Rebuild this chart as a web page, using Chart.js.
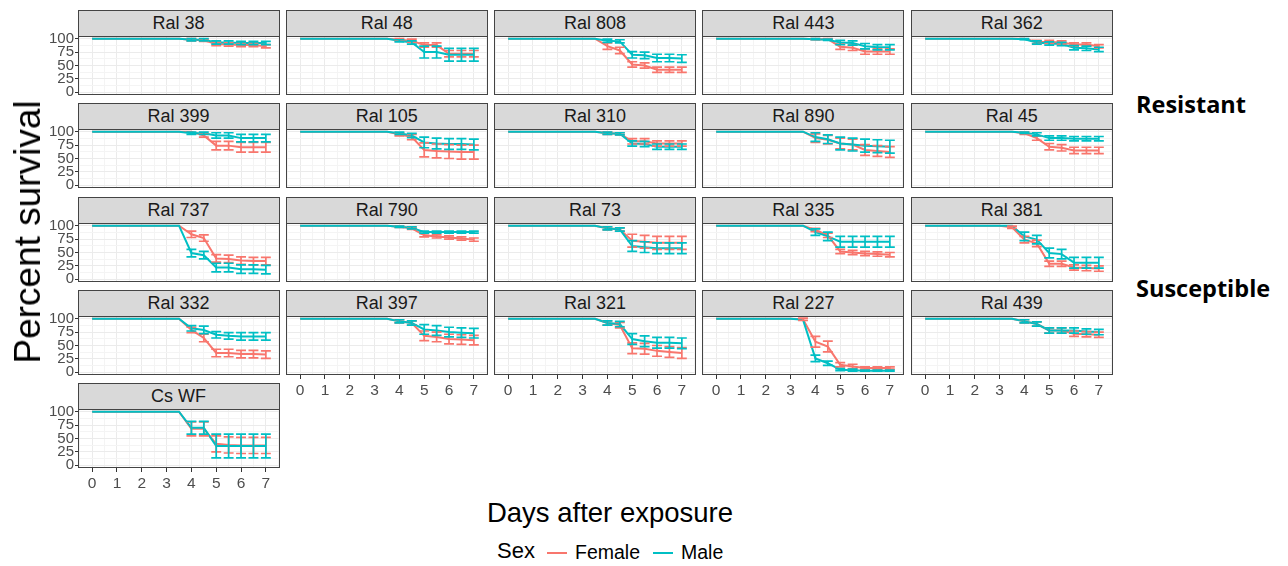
<!DOCTYPE html>
<html>
<head>
<meta charset="utf-8">
<script src="https://cdn.jsdelivr.net/npm/chart.js@4.4.0/dist/chart.umd.min.js"></script>
<style>
  body { margin: 0; background: #fff; font-family: "Liberation Sans", Arial, sans-serif; }
  #wrap { position: relative; width: 1288px; height: 566px; overflow: hidden; }
  .strip { position: absolute; background: #D9D9D9; border: 1px solid #444; box-sizing: border-box;
           text-align: center; font-size: 18px; color: #1A1A1A; line-height: 25px; }
  .cbox { position: absolute; }
  .txt { position: absolute; white-space: nowrap; color: #000; }
  .group { position: absolute; font-family: "Open Sans", sans-serif; font-weight: 700; font-size: 23.5px; color: #000; }
</style>
</head>
<body>
<div id="wrap"></div>
<script>
// time points (days after exposure)
const days = [0, 0.5, 1, 1.5, 2, 2.5, 3, 3.5, 4, 4.5, 5, 5.5, 6, 6.5, 7];

const panelNames = ["Ral 38", "Ral 48", "Ral 808", "Ral 443", "Ral 362",
                    "Ral 399", "Ral 105", "Ral 310", "Ral 890", "Ral 45",
                    "Ral 737", "Ral 790", "Ral 73", "Ral 335", "Ral 381",
                    "Ral 332", "Ral 397", "Ral 321", "Ral 227", "Ral 439",
                    "Cs WF"];

// mean percent survival, one row per panel
const femaleSurvival = [
  [100,100,100,100,100,100,100,100,98,97,90,89,88,88,86],
  [100,100,100,100,100,100,100,100,98,96,88,88,72,72,72],
  [100,100,100,100,100,100,100,100,86,78,52,50,42,42,42],
  [100,100,100,100,100,100,100,100,99,99,85,83,76,76,76],
  [100,100,100,100,100,100,100,100,100,94,94,93,89,89,86],
  [100,100,100,100,100,100,100,100,100,93,74,74,71,71,71],
  [100,100,100,100,100,100,100,100,95,90,66,64,63,62,62],
  [100,100,100,100,100,100,100,100,97,96,82,82,78,78,78],
  [100,100,100,100,100,100,100,100,88,85,78,76,66,64,62],
  [100,100,100,100,100,100,100,100,97,88,72,70,65,65,65],
  [100,100,100,100,100,100,100,100,84,77,39,38,35,34,34],
  [100,100,100,100,100,100,100,100,98,95,82,80,78,76,74],
  [100,100,100,100,100,100,100,100,95,93,72,70,68,68,68],
  [100,100,100,100,100,100,100,100,92,82,52,50,48,47,46],
  [100,100,100,100,100,100,100,97,74,67,29,29,22,21,20],
  [100,100,100,100,100,100,100,100,79,64,36,36,34,34,33],
  [100,100,100,100,100,100,100,100,95,92,68,66,62,61,60],
  [100,100,100,100,100,100,100,100,92,88,45,44,40,38,36],
  [100,100,100,100,100,100,100,99,57,48,14,11,8,8,8],
  [100,100,100,100,100,100,100,100,95,90,78,78,72,71,70],
  [100,100,100,100,100,100,100,100,68,68,40,38,37,37,37]
];
const maleSurvival = [
  [100,100,100,100,100,100,100,100,98,98,93,93,92,92,92],
  [100,100,100,100,100,100,100,100,96,93,75,75,70,70,70],
  [100,100,100,100,100,100,100,100,96,95,70,69,64,64,63],
  [100,100,100,100,100,100,100,100,99,98,93,92,86,84,84],
  [100,100,100,100,100,100,100,100,99,93,91,90,83,82,80],
  [100,100,100,100,100,100,100,100,97,97,93,93,88,88,88],
  [100,100,100,100,100,100,100,100,97,93,80,78,77,77,76],
  [100,100,100,100,100,100,100,100,97,96,78,77,72,72,72],
  [100,100,100,100,100,100,100,100,90,86,78,76,74,73,72],
  [100,100,100,100,100,100,100,100,98,95,88,88,87,87,87],
  [100,100,100,100,100,100,100,100,49,45,22,22,19,19,18],
  [100,100,100,100,100,100,100,100,98,96,88,88,88,88,88],
  [100,100,100,100,100,100,100,100,95,93,62,60,58,58,58],
  [100,100,100,100,100,100,100,100,88,80,70,70,70,70,70],
  [100,100,100,100,100,100,100,100,80,74,49,47,31,31,31],
  [100,100,100,100,100,100,100,100,82,79,70,68,67,67,67],
  [100,100,100,100,100,100,100,100,95,92,80,78,75,74,73],
  [100,100,100,100,100,100,100,100,92,90,62,58,55,55,54],
  [100,100,100,100,100,100,100,98,26,17,5,4,3,3,3],
  [100,100,100,100,100,100,100,100,95,90,78,78,78,76,75],
  [100,100,100,100,100,100,100,100,70,70,36,36,36,36,36]
];
// standard error (half length of each error bar)
const femaleError = [
  [0,0,0,0,0,0,0,0,2,2,3,3,3,3,3],
  [0,0,0,0,0,0,0,0,2,3,4,4,6,6,6],
  [0,0,0,0,0,0,0,0,6,6,5,5,5,5,5],
  [0,0,0,0,0,0,0,0,1,1,5,5,5,5,5],
  [0,0,0,0,0,0,0,0,0,3,3,3,3,3,3],
  [0,0,0,0,0,0,0,0,0,3,8,8,9,9,9],
  [0,0,0,0,0,0,0,0,3,5,13,13,13,13,13],
  [0,0,0,0,0,0,0,0,2,2,5,5,5,5,5],
  [0,0,0,0,0,0,0,0,8,8,10,10,10,10,10],
  [0,0,0,0,0,0,0,0,2,4,6,6,6,6,6],
  [0,0,0,0,0,0,0,0,6,6,7,7,7,7,7],
  [0,0,0,0,0,0,0,0,1,2,3,3,3,3,3],
  [0,0,0,0,0,0,0,0,3,3,12,12,12,12,12],
  [0,0,0,0,0,0,0,0,3,4,4,4,4,4,4],
  [0,0,0,0,0,0,0,2,6,6,5,5,5,5,5],
  [0,0,0,0,0,0,0,0,5,7,7,7,7,7,7],
  [0,0,0,0,0,0,0,0,3,4,9,9,9,9,9],
  [0,0,0,0,0,0,0,0,4,5,10,10,10,10,10],
  [0,0,0,0,0,0,0,2,10,10,4,4,2,2,2],
  [0,0,0,0,0,0,0,0,3,4,5,5,5,5,5],
  [0,0,0,0,0,0,0,0,13,13,15,15,15,15,15]
];
const maleError = [
  [0,0,0,0,0,0,0,0,2,2,3,3,3,3,3],
  [0,0,0,0,0,0,0,0,2,3,11,11,12,12,12],
  [0,0,0,0,0,0,0,0,3,3,6,6,7,7,7],
  [0,0,0,0,0,0,0,0,1,1,4,4,5,5,5],
  [0,0,0,0,0,0,0,0,1,3,3,3,4,4,4],
  [0,0,0,0,0,0,0,0,2,2,5,5,7,7,7],
  [0,0,0,0,0,0,0,0,2,4,10,10,10,10,10],
  [0,0,0,0,0,0,0,0,2,2,5,5,5,5,5],
  [0,0,0,0,0,0,0,0,8,8,12,12,12,12,12],
  [0,0,0,0,0,0,0,0,1,3,4,4,4,4,4],
  [0,0,0,0,0,0,0,0,7,7,8,8,8,8,8],
  [0,0,0,0,0,0,0,0,1,2,2,2,2,2,2],
  [0,0,0,0,0,0,0,0,3,3,10,10,10,10,10],
  [0,0,0,0,0,0,0,0,6,8,10,10,10,10,10],
  [0,0,0,0,0,0,0,0,8,8,9,9,10,10,10],
  [0,0,0,0,0,0,0,0,5,7,6,6,7,7,7],
  [0,0,0,0,0,0,0,0,3,4,9,9,9,9,9],
  [0,0,0,0,0,0,0,0,4,5,10,10,10,10,10],
  [0,0,0,0,0,0,0,0,6,4,2,2,1,1,1],
  [0,0,0,0,0,0,0,0,3,4,5,5,5,5,5],
  [0,0,0,0,0,0,0,0,12,12,22,22,22,22,22]
];

const xTicks = [0, 1, 2, 3, 4, 5, 6, 7];
const yTicks = [0, 25, 50, 75, 100];

const FEMALE = "#F8766D", MALE = "#00BFC4";

// layout (px)
const COLS = 5, PANEL_W = 202, PLOT_H = 59, STRIP_H = 27;
const COL_X = [77.5, 285.8, 494.1, 702.4, 910.7];
const ROW_Y = [10, 103.3, 196.6, 289.9, 383.2];
const PAD = 6, YAXIS_W = 30, XAXIS_H = 24;

const errorBars = {
  id: "errorBars",
  afterDatasetsDraw(chart) {
    const { ctx, chartArea, scales: { x, y } } = chart;
    ctx.save();
    ctx.beginPath();
    ctx.rect(chartArea.left, chartArea.top, chartArea.width, chartArea.height);
    ctx.clip();
    chart.data.datasets.forEach(ds => {
      ctx.strokeStyle = ds.borderColor;
      ctx.lineWidth = 1.7;
      ds.data.forEach((p, j) => {
        const e = ds.errors[j];
        if (!e) return;
        const px = x.getPixelForValue(p.x);
        const hw = x.getPixelForValue(p.x + 0.2) - px;
        const yt = y.getPixelForValue(p.y + e), yb = y.getPixelForValue(p.y - e);
        ctx.beginPath();
        ctx.moveTo(px, yt); ctx.lineTo(px, yb);
        ctx.moveTo(px - hw, yt); ctx.lineTo(px + hw, yt);
        ctx.moveTo(px - hw, yb); ctx.lineTo(px + hw, yb);
        ctx.stroke();
      });
    });
    ctx.restore();
  }
};

const panelBorder = {
  id: "panelBorder",
  afterDraw(chart) {
    const { ctx, chartArea: a } = chart;
    ctx.save();
    ctx.strokeStyle = "#444";
    ctx.lineWidth = 1;
    ctx.strokeRect(Math.round(a.left) + 0.5, Math.round(a.top) + 0.5,
                   Math.round(a.width) - 1, Math.round(a.height) - 1);
    ctx.restore();
  }
};

const wrap = document.getElementById("wrap");

function addText(html, css, cls) {
  const d = document.createElement("div");
  d.className = cls || "txt";
  d.innerHTML = html;
  Object.assign(d.style, css);
  wrap.appendChild(d);
  return d;
}

panelNames.forEach((name, i) => {
  const r = Math.floor(i / COLS), c = i % COLS;
  const showY = c === 0;
  const showX = (c === 0 && r === 4) || (c > 0 && r === 3);
  const left = COL_X[c], top = ROW_Y[r];

  const strip = document.createElement("div");
  strip.className = "strip";
  Object.assign(strip.style, { left: left + "px", top: top + "px", width: PANEL_W + "px", height: STRIP_H + "px" });
  strip.textContent = name;
  wrap.appendChild(strip);

  const plotTop = top + STRIP_H - 1;
  const boxL = left - PAD - (showY ? YAXIS_W : 0);
  const boxT = plotTop - PAD;
  const boxW = PANEL_W + 2 * PAD + (showY ? YAXIS_W : 0);
  const boxH = PLOT_H + 2 * PAD + (showX ? XAXIS_H : 0);

  const box = document.createElement("div");
  box.className = "cbox";
  Object.assign(box.style, { left: boxL + "px", top: boxT + "px", width: boxW + "px", height: boxH + "px" });
  const cv = document.createElement("canvas");
  box.appendChild(cv);
  wrap.appendChild(box);

  const mk = (vals) => days.map((d, j) => ({ x: d, y: vals[j] }));

  new Chart(cv, {
    type: "line",
    data: {
      datasets: [
        { label: "Female", data: mk(femaleSurvival[i]), errors: femaleError[i], borderColor: FEMALE,
          borderWidth: 2, pointRadius: 0, tension: 0, order: 2 },
        { label: "Male", data: mk(maleSurvival[i]), errors: maleError[i], borderColor: MALE,
          borderWidth: 2, pointRadius: 0, tension: 0, order: 1 }
      ]
    },
    options: {
      responsive: true,
      maintainAspectRatio: false,
      animation: false,
      layout: { padding: PAD },
      plugins: { legend: { display: false }, tooltip: { enabled: false } },
      scales: {
        x: {
          type: "linear", min: -0.57, max: 7.57,
          afterFit: s => { s.height = showX ? XAXIS_H : 0; s.paddingLeft = 0; s.paddingRight = 0; },
          border: { display: false },
          grid: {
            color: ctx => Number.isInteger(ctx.tick.value) ? "#EBEBEB" : "#F4F4F4",
            lineWidth: 1,
            drawTicks: showX,
            tickLength: 4,
            tickColor: ctx => xTicks.includes(ctx.tick.value) ? "#333" : "rgba(0,0,0,0)"
          },
          ticks: {
            display: showX, stepSize: 0.5, includeBounds: false, autoSkip: false, maxRotation: 0,
            padding: 2, color: "#4D4D4D", font: { size: 15.5, family: "Liberation Sans" },
            callback: v => xTicks.includes(v) ? String(v) : ""
          }
        },
        y: {
          type: "linear", min: -5, max: 105,
          afterFit: s => { s.width = showY ? YAXIS_W : 0; s.paddingTop = 0; s.paddingBottom = 0; },
          border: { display: false },
          grid: {
            color: ctx => yTicks.includes(ctx.tick.value) ? "#EBEBEB" : "#F4F4F4",
            lineWidth: 1,
            drawTicks: showY,
            tickLength: 3,
            tickColor: ctx => yTicks.includes(ctx.tick.value) ? "#333" : "rgba(0,0,0,0)"
          },
          ticks: {
            display: showY, stepSize: 12.5, includeBounds: false, autoSkip: false,
            padding: 1, color: "#4D4D4D", font: { size: 15, family: "Liberation Sans" },
            callback: v => yTicks.includes(v) ? String(v) : ""
          }
        }
      }
    },
    plugins: [errorBars, panelBorder]
  });
});

// axis titles
addText("Percent survival", { left: "28px", top: "232px", fontSize: "37px",
  transform: "translate(-50%,-50%) rotate(-90deg)" });
addText("Days after exposure", { left: "610px", top: "513px", fontSize: "27.5px",
  transform: "translate(-50%,-50%)" });

// legend
addText("Sex", { left: "497px", top: "538px", fontSize: "22px" });
addText("", { left: "547px", top: "552px", width: "20px", height: "2px", background: FEMALE });
addText("Female", { left: "575px", top: "541px", fontSize: "19.5px" });
addText("", { left: "653px", top: "552px", width: "20px", height: "2px", background: MALE });
addText("Male", { left: "681px", top: "541px", fontSize: "19.5px" });

// group labels
addText("Resistant", { left: "1136px", top: "88px" }, "group");
addText("Susceptible", { left: "1136px", top: "272px" }, "group");
</script>
</body>
</html>
